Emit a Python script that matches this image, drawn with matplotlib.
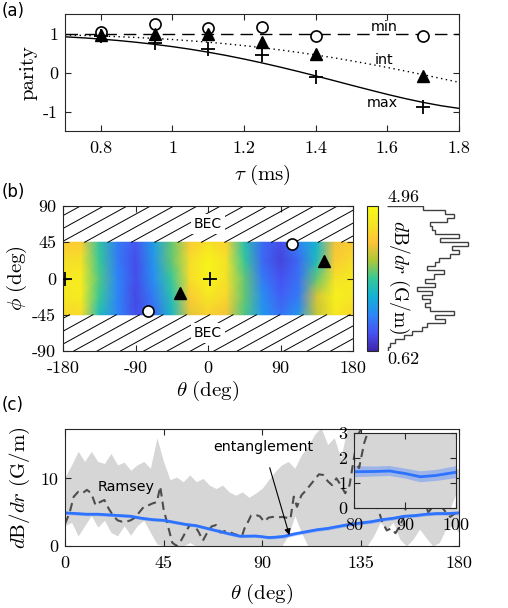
import numpy as np
import matplotlib
matplotlib.use("Agg")
import matplotlib.pyplot as plt
from matplotlib.colors import LinearSegmentedColormap

plt.rcParams['font.family'] = 'DejaVu Sans'
plt.rcParams['mathtext.fontset'] = 'cm'
plt.rcParams['axes.unicode_minus'] = False

# ---- panel (a) data ----
tau = [0.8, 0.95, 1.1, 1.25, 1.4, 1.7]
par_min = [1.05, 1.25, 1.14, 1.16, 0.93, 0.93]
par_int = [0.97, 1.0, 1.0, 0.78, 0.47, -0.1]
par_max = [0.94, 0.75, 0.6, 0.45, -0.11, -0.89]

tau_fit = [0.7, 0.75, 0.8, 0.85, 0.9, 0.95, 1.0, 1.05, 1.1, 1.15, 1.2, 1.25,
           1.3, 1.35, 1.4, 1.45, 1.5, 1.55, 1.6, 1.65, 1.7, 1.75, 1.8]
fit_min = [1.0] * 23
fit_int = [0.962, 0.950, 0.936, 0.918, 0.898, 0.874, 0.846, 0.813, 0.777, 0.735,
           0.689, 0.637, 0.580, 0.518, 0.450, 0.378, 0.299, 0.216, 0.129, 0.038,
           -0.056, -0.153, -0.251]
fit_max = [0.915, 0.889, 0.857, 0.819, 0.774, 0.722, 0.663, 0.596, 0.520, 0.437,
           0.345, 0.246, 0.140, 0.029, -0.087, -0.206, -0.327, -0.445, -0.561,
           -0.669, -0.767, -0.852, -0.920]

# ---- panel (b) data ----
theta_grid = [-180, -157.5, -135, -112.5, -90, -67.5, -45, -22.5, 0,
              22.5, 45, 67.5, 90, 112.5, 135, 157.5, 180]
phi_grid = [-45, -22.5, 0, 22.5, 45]
dbdr_grid = [
    [4.2, 4.3, 2.5, 1.7, 1.1, 1.4, 2.4, 3.7, 4.1, 3.8, 2.9, 1.9, 1.5, 1.9, 3.5, 4.5, 4.2],
    [4.5, 4.6, 2.8, 1.7, 1.05, 1.6, 2.6, 4.0, 4.5, 4.2, 3.0, 1.8, 1.3, 1.6, 3.6, 4.7, 4.5],
    [4.6, 4.6, 2.9, 1.7, 1.1, 1.8, 2.8, 4.3, 4.8, 4.4, 3.0, 1.6, 1.15, 1.5, 3.0, 4.4, 4.6],
    [4.3, 4.4, 2.8, 1.6, 1.1, 1.9, 3.0, 4.3, 4.8, 4.4, 2.8, 1.4, 1.0, 1.4, 2.5, 4.0, 4.3],
    [4.0, 4.0, 2.7, 1.6, 1.2, 2.0, 3.0, 4.0, 4.4, 4.1, 2.6, 1.4, 1.1, 1.7, 2.3, 3.8, 4.0],
]
b_plus_th = [-177, 2]
b_plus_ph = [0, 0]
b_tri_th = [-35, 144]
b_tri_ph = [-18, 22]
b_circ_th = [-75, 104]
b_circ_ph = [-40, 43]
cbar_min, cbar_max = 0.62, 4.96
# histogram of dB/dr values, bins from top (4.96) to bottom (0.62)
hist_counts = [36, 58, 67, 60, 43, 45, 48, 72, 53, 81, 65, 72, 63, 52, 48, 40, 57, 47,
               38, 48, 30, 45, 35, 43, 38, 43, 67, 48, 58, 40, 35, 25, 17, 8, 3, 1]

# ---- panel (c) data ----
band_theta = list(range(0, 181, 3))
band_hi = [10.2, 12, 14, 12.5, 14, 12.5, 12.2, 13.7, 12, 12.4, 11.2, 12, 12.5, 11.5,
           16, 12.5, 9.8, 10.2, 9.5, 10.5, 9.5, 10, 9, 8.5, 9, 8, 7.5, 8, 7.2, 7.8,
           8.5, 9.8, 11, 12, 12.5, 11.5, 13.5, 14.7, 16.5, 17.5, 15, 16, 13, 17.5,
           17.5, 17, 13, 11.2, 12, 12.8, 12.5, 13.5, 12.8, 14, 13.5, 12.8, 12, 11.5,
           11.8, 11, 11.5]
band_lo = [3, 3.5, 1.5, 3, 4.5, 2.8, 3.8, 2, 1.5, 3, 1.6, 3, 3.8, 2, 0.3, 0, 0, 0,
           0, 0.5, 0, 0, 0, 0, 0, 0, 0, 0, 0, 0, 0, 0, 0, 0, 1.5, 4.5, 2, 0, 0, 0, 0,
           0, 0, 0, 0, 0, 0, 1.5, 3.5, 2.5, 3.5, 1.0, 0, 1.0, 2.5, 1.2, 0, 0.5, 2.5,
           3.0, 2.0]

ramsey_theta = [0, 2, 4, 6, 8, 10, 12, 14, 16, 18, 20, 22, 24, 26, 28, 30, 32, 34, 36,
                38, 40, 42, 43.5, 45, 47, 49, 51, 53, 55, 57, 59, 61, 63, 65, 67, 69,
                71, 73, 75, 77, 79, 80, 81, 82, 83.5, 85, 87, 89, 91, 93, 95, 97, 99,
                101, 103, 104.5, 106, 108, 110, 112, 114, 116, 118, 120, 122, 124, 126,
                128, 130, 132, 134, 135.5, 137, 139, 141, 143, 145, 147, 149, 151, 153,
                154.5, 156, 158, 160, 162, 164, 166, 168, 170, 172, 174, 176, 178, 180]
ramsey = [3.3, 4.8, 7.3, 8.0, 7.8, 8.3, 7.8, 6.0, 6.5, 6.8, 5.5, 4.5, 3.8, 3.6, 3.6,
          3.8, 4.2, 5.0, 5.8, 6.0, 6.3, 6.5, 8.8, 5.5, 3.0, 0.5, 0.0, 0.8, 2.0, 3.1,
          3.1, 2.1, 0.8, 2.0, 2.9, 3.1, 2.0, 2.2, 2.1, 1.8, 1.6, 1.9, 1.6, 2.6, 3.5,
          4.5, 4.6, 4.4, 3.6, 4.2, 4.3, 4.2, 4.3, 4.2, 4.0, 7.3, 5.8, 7.5, 8.2, 9.0,
          9.8, 10.6, 10.5, 9.6, 9.0, 10.0, 9.0, 7.8, 9.0, 13.0, 16.5, 17.5, 14, 11, 8,
          5.5, 3.5, 2.3, 2.6, 1.9, 3.0, 4.1, 6, 8, 9, 8, 6.5, 5.0, 5.8, 7, 5.8, 5.0,
          4.3, 4.8, 5.0]

ent_theta = [0, 5, 10, 15, 20, 25, 30, 35, 40, 45, 50, 55, 60, 65, 70, 75, 80, 84, 87,
             90, 93, 96, 100, 105, 110, 115, 120, 125, 130, 135, 140, 145, 150, 155,
             160, 165, 170, 175, 180]
ent = [4.9, 4.8, 4.7, 4.7, 4.6, 4.5, 4.4, 4.1, 3.9, 3.8, 3.5, 3.2, 3.0, 2.6, 2.2, 1.8,
       1.45, 1.46, 1.48, 1.38, 1.25, 1.3, 1.43, 1.8, 2.1, 2.4, 2.6, 2.9, 3.2, 3.4, 3.6,
       3.9, 4.1, 4.4, 4.5, 4.7, 4.8, 4.8, 4.9]
ent_err = [0.22] * 16 + [0.22, 0.2, 0.2, 0.2, 0.22, 0.22, 0.24] + [0.24] * 16

# parula-like colormap
parula = LinearSegmentedColormap.from_list('parula', [
    (0.2422, 0.1504, 0.6603), (0.2810, 0.3228, 0.9579), (0.1786, 0.5289, 0.9682),
    (0.0689, 0.6948, 0.8394), (0.2161, 0.7843, 0.5923), (0.6720, 0.7793, 0.2227),
    (0.9970, 0.7659, 0.2199), (0.9600, 0.8900, 0.1500), (0.9769, 0.9839, 0.0805)])

tick_font = 'cmr10'
edge = '0.15'
blue = (0.18, 0.45, 1.0)


def style(ax, fs=13):
    ax.tick_params(direction='in', top=True, right=True, length=4, width=0.8,
                   color=edge, labelsize=fs)
    ax.tick_params(axis='x', pad=7)
    ax.tick_params(axis='y', pad=5)
    for lab in ax.get_xticklabels() + ax.get_yticklabels():
        lab.set_fontfamily(tick_font)
    for s in ax.spines.values():
        s.set_color(edge)
        s.set_linewidth(0.8)


fig = plt.figure(figsize=(5.08, 6.08), dpi=100)
W, H = 508.0, 608.0


def px_axes(x0, y0, x1, y1):
    return fig.add_axes([x0 / W, 1 - y1 / H, (x1 - x0) / W, (y1 - y0) / H])


# ---------------- (a) ----------------
ax_a = px_axes(65, 14, 459, 131)
ax_a.plot(tau_fit, fit_min, color='k', lw=1, ls=(0, (9, 5)))
ax_a.plot(tau_fit, fit_int, color='k', lw=1, ls=(0, (1, 2.5)))
ax_a.plot(tau_fit, fit_max, color='k', lw=1)
ax_a.plot(tau, par_min, 'o', ms=8, mfc='white', mec='k', mew=1.2)
ax_a.plot(tau, par_int, '^', ms=9, color='k')
ax_a.plot(tau, par_max, '+', ms=10, color='k', mew=1.3)
ax_a.text(1.59, 1.16, 'min', fontsize=10.3, ha='center', va='center')
ax_a.text(1.59, 0.32, 'int', fontsize=10.3, ha='center', va='center')
ax_a.text(1.585, -0.78, 'max', fontsize=10.3, ha='center', va='center')
ax_a.set_xlim(0.7, 1.8)
ax_a.set_ylim(-1.5, 1.5)
ax_a.set_xticks([0.8, 1.0, 1.2, 1.4, 1.6, 1.8])
ax_a.set_xticklabels(['0.8', '1', '1.2', '1.4', '1.6', '1.8'])
ax_a.set_yticks([-1, 0, 1])
ax_a.set_yticklabels(['-1', '0', '1'])
ax_a.set_xlabel(r'$\tau\ (\mathrm{ms})$', fontsize=15, labelpad=5)
ax_a.set_ylabel('parity', fontsize=15, fontfamily=tick_font, labelpad=4)
style(ax_a)

# ---------------- (b) ----------------
ax_b = px_axes(63, 206, 353, 351)
TH, PH = np.meshgrid(theta_grid, phi_grid)
mesh = ax_b.pcolormesh(TH, PH, np.array(dbdr_grid), shading='gouraud', cmap=parula,
                       vmin=cbar_min, vmax=cbar_max)
slope = 0.55
for c in np.arange(-380, 380, 29):
    for p0, p1 in [(45, 90), (-90, -45)]:
        ax_b.plot([c + p0 / slope, c + p1 / slope], [p0, p1], color='k', lw=0.7)
for yy in [67.5, -67.5]:
    ax_b.text(0, yy, 'BEC', fontsize=10, ha='center', va='center', zorder=5,
              bbox=dict(facecolor='white', edgecolor='none', pad=2))
ax_b.plot(b_plus_th, b_plus_ph, '+', ms=10, color='k', mew=1.3, zorder=6)
ax_b.plot(b_tri_th, b_tri_ph, '^', ms=9, color='k', zorder=6)
ax_b.plot(b_circ_th, b_circ_ph, 'o', ms=8, mfc='white', mec='k', mew=1.2, zorder=6)
ax_b.set_xlim(-180, 180)
ax_b.set_ylim(-90, 90)
ax_b.set_xticks([-180, -90, 0, 90, 180])
ax_b.set_xticklabels(['-180', '-90', '0', '90', '180'])
ax_b.set_yticks([-90, -45, 0, 45, 90])
ax_b.set_yticklabels(['-90', '-45', '0', '45', '90'])
ax_b.set_xlabel(r'$\theta\ (\mathrm{deg})$', fontsize=15, labelpad=2)
ax_b.set_ylabel(r'$\phi\ (\mathrm{deg})$', fontsize=15, labelpad=2)
style(ax_b)

cax = px_axes(367, 206, 378, 351)
cb = fig.colorbar(mesh, cax=cax, ticks=[])
cb.outline.set_edgecolor(edge)
cb.outline.set_linewidth(0.8)
fig.text(387 / W, 1 - 205 / H, '%.2f' % cbar_max, fontsize=13, fontfamily=tick_font,
         ha='left', va='bottom')
fig.text(387 / W, 1 - 352 / H, '%.2f' % cbar_min, fontsize=13, fontfamily=tick_font,
         ha='left', va='top')
fig.text(399 / W, 1 - 277 / H, r'$d\mathrm{B}/dr\ (\mathrm{G/m})$', fontsize=14,
         rotation=-90, ha='center', va='center')

ax_h = px_axes(387, 206, 477, 351)
edges = np.linspace(cbar_min, cbar_max, len(hist_counts) + 1)
ax_h.stairs(hist_counts[::-1], edges, orientation='horizontal', color='0.25', lw=1)
ax_h.set_ylim(cbar_min, cbar_max)
ax_h.set_xlim(0, 90)
ax_h.axis('off')

# ---------------- (c) ----------------
ax_c = px_axes(65, 429, 459, 546)
ent_lo = [v - e for v, e in zip(ent, ent_err)]
ent_hi = [v + e for v, e in zip(ent, ent_err)]


def draw_c(ax):
    ax.fill_between(band_theta, band_lo, band_hi, color='#d6d6d6', lw=0)
    ax.plot(ramsey_theta, ramsey, color='0.3', lw=1.5, ls=(0, (4, 2.5)))
    ax.fill_between(ent_theta, ent_lo, ent_hi, color=(0.35, 0.55, 1.0), alpha=0.45, lw=0)
    ax.plot(ent_theta, ent, color=blue, lw=2)


draw_c(ax_c)
ax_c.text(28, 8.75, 'Ramsey', fontsize=10.3, ha='center', va='center')
ax_c.annotate('entanglement', xy=(102.5, 1.6), xytext=(90.8, 14.6), fontsize=10.3,
              ha='center', va='center',
              arrowprops=dict(arrowstyle='-|>', color='k', lw=0.8, mutation_scale=9,
                              shrinkA=8, shrinkB=0))
ax_c.set_xlim(0, 180)
ax_c.set_ylim(0, 17.3)
ax_c.set_xticks([0, 45, 90, 135, 180])
ax_c.set_xticklabels(['0', '45', '90', '135', '180'])
ax_c.set_yticks([0, 10])
ax_c.set_yticklabels(['0', '10'])
ax_c.set_xlabel(r'$\theta\ (\mathrm{deg})$', fontsize=15, labelpad=8)
ax_c.set_ylabel(r'$d\mathrm{B}/dr\ (\mathrm{G/m})$', fontsize=15, labelpad=6)
style(ax_c)

ax_i = px_axes(354, 433, 456, 508)
draw_c(ax_i)
ax_i.set_xlim(80, 100)
ax_i.set_ylim(0, 3)
ax_i.set_xticks([80, 90, 100])
ax_i.set_xticklabels(['80', '90', '100'])
ax_i.set_yticks([0, 1, 2, 3])
ax_i.set_yticklabels(['0', '1', '2', '3'])
style(ax_i)

fig.text(2 / W, 1 - 11 / H, '(a)', fontsize=12, va='center', ha='left')
fig.text(2 / W, 1 - 192 / H, '(b)', fontsize=12, va='center', ha='left')
fig.text(2 / W, 1 - 405 / H, '(c)', fontsize=12, va='center', ha='left')

fig.savefig('out.png', dpi=100)
